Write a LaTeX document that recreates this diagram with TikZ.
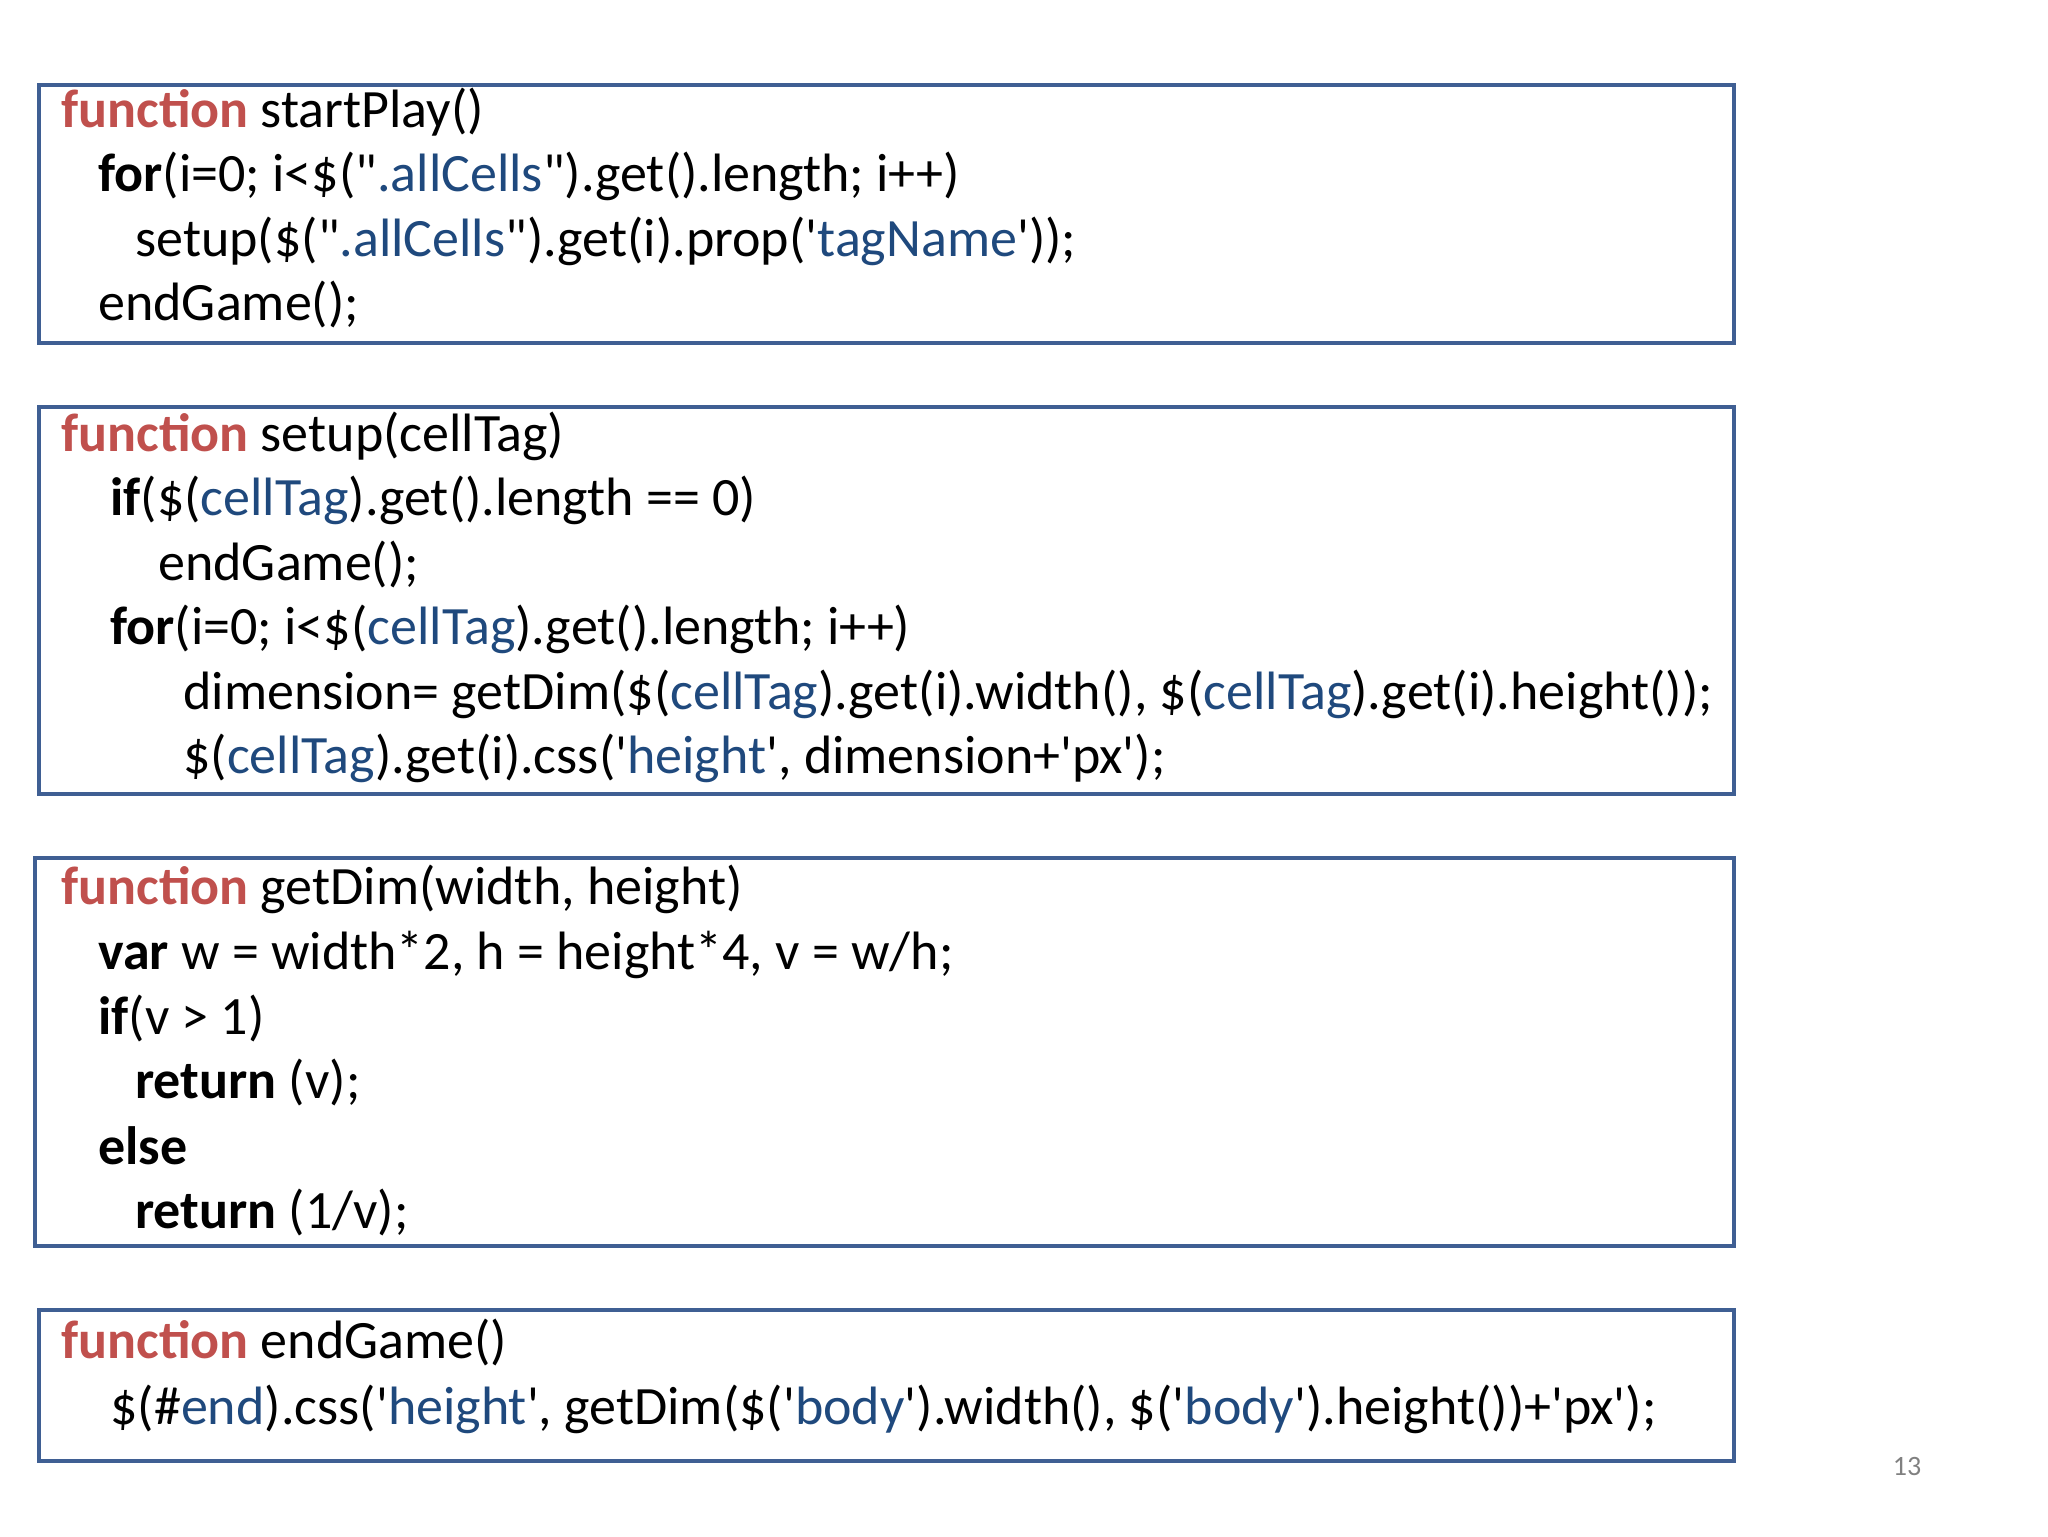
\documentclass[tikz,border=0pt]{standalone}
\usepackage{fontspec}
\newfontfamily\cf{Carlito}
\definecolor{kred}{HTML}{C0504D}
\definecolor{sblue}{HTML}{1F497D}
\definecolor{bframe}{HTML}{3F5F93}
\newcommand{\fn}{\textcolor{kred}{\textbf{function}}}
\newcommand{\kb}[1]{\textbf{#1}}
\newcommand{\sbl}[1]{\textcolor{sblue}{#1}}
\begin{document}
\begin{tikzpicture}[x=0.5pt,y=-0.5pt,
  codebox/.style={draw=bframe,line width=2.4pt},
  ln/.style={anchor=base west,inner sep=0pt,font=\cf\fontsize{27}{32}\selectfont}]
\useasboundingbox (0,0) rectangle (2048,1536);
\draw[codebox] (39,85) rectangle (1734,343);
\draw[codebox] (39,407) rectangle (1734,794);
\draw[codebox] (35,858) rectangle (1734,1246);
\draw[codebox] (39,1310) rectangle (1734,1461);
% box 1
\node[ln] (a1) at (61,127) {\fn{} startPlay()};
\node[ln] (a2) at (98,191) {\kb{for}(i=0; i<\$("\sbl{.allCells}").get().length; i++)};
\node[ln] (a3) at (135,256) {setup(\$("\sbl{.allCells}").get(i).prop('\sbl{tagName}'));};
\node[ln] (a4) at (98,320) {endGame();};
% box 2
\node[ln] (b1) at (61,451) {\fn{} setup(cellTag)};
\node[ln] (b2) at (110,515) {\kb{if}(\$(\sbl{cellTag}).get().length == 0)};
\node[ln] (b3) at (158,580) {endGame();};
\node[ln] (b4) at (110,644) {\kb{for}(i=0; i<\$(\sbl{cellTag}).get().length; i++)};
\node[ln] (b5) at (183,709) {dimension= getDim(\$(\sbl{cellTag}).get(i).width(), \$(\sbl{cellTag}).get(i).height());};
\node[ln] (b6) at (183,773) {\$(\sbl{cellTag}).get(i).css('\sbl{height}', dimension+'px');};
% box 3
\node[ln] (c1) at (61,904) {\fn{} getDim(width, height)};
\node[ln] (c2) at (98,969) {\kb{var} w = width*2, h = height*4, v = w/h;};
\node[ln] (c3) at (98,1034) {\kb{if}(v > 1)};
\node[ln] (c4) at (135,1098) {\kb{return} (v);};
\node[ln] (c5) at (98,1164) {\kb{else}};
\node[ln] (c6) at (135,1228) {\kb{return} (1/v);};
% box 4
\node[ln] (d1) at (61,1358) {\fn{} endGame()};
\node[ln] (d2) at (110,1424) {\$(\#\sbl{end}).css('\sbl{height}', getDim(\$('\sbl{body}').width(), \$('\sbl{body}').height())+'px');};
\node[anchor=base,inner sep=0pt,font=\cf\fontsize{14}{16}\selectfont,text=gray] (pg) at (1907,1475) {13};
\end{tikzpicture}
\end{document}
